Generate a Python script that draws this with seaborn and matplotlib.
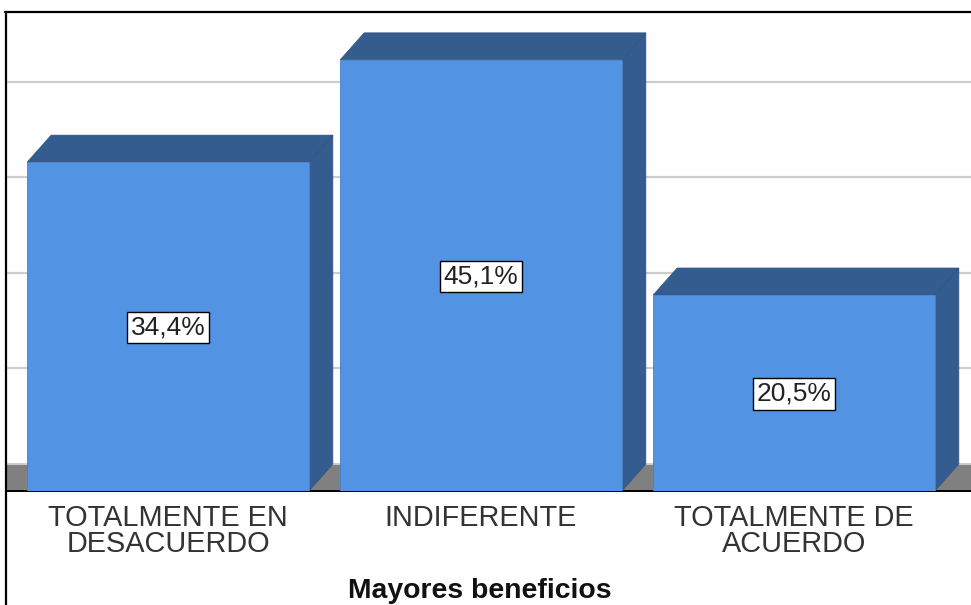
import matplotlib
matplotlib.use("Agg")
import matplotlib.pyplot as plt
import pandas as pd
import seaborn as sns
from matplotlib.lines import Line2D
from matplotlib.patches import Polygon

categories = ["TOTALMENTE EN\nDESACUERDO", "INDIFERENTE", "TOTALMENTE DE\nACUERDO"]
values = [34.4, 45.1, 20.5]
labels = ["34,4%", "45,1%", "20,5%"]
grid_levels = [10, 20, 30, 40]
axis_title = "Mayores beneficios"

FRONT = "#5294E3"
DARK = "#345C8E"
FLOOR = "#808080"
GRID = "#CDCDCD"

W, H = 971, 605
# pixel scale of the chart: 313 px per category, 9.56 px per percent
PX_X, PX_Y = 313.0, 9.56
DEPTH_X, DEPTH_Y = 24 / PX_X, 27 / PX_Y

sns.set_theme(style="white")
plt.rcParams["font.family"] = ["Liberation Sans", "DejaVu Sans"]

fig = plt.figure(figsize=(W / 100, H / 100), dpi=100, facecolor="white")
ax = fig.add_axes([6 / W, (H - 491) / H, (W - 6) / W, (491 - 12) / H])

df = pd.DataFrame({"categoria": categories, "pct": values})
sns.barplot(data=df, x="categoria", y="pct", color=FRONT, saturation=1, width=0.9,
            edgecolor="#4A80C4", linewidth=0.6, ax=ax, zorder=5)

ax.set_xlim((6 - 168) / PX_X, (W - 168) / PX_X)
ax.set_ylim(0, (491 - 12) / PX_Y)

# back wall grid and floor
x0, x1 = ax.get_xlim()
for lev in grid_levels:
    ax.hlines(lev + DEPTH_Y, x0, x1, color=GRID, lw=1.6, zorder=1)
ax.add_patch(Polygon([(x0, 0), (x1, 0), (x1, DEPTH_Y), (x0, DEPTH_Y)],
                     facecolor=FLOOR, edgecolor="none", zorder=2))
ax.hlines(DEPTH_Y, x0, x1, color=GRID, lw=1.4, zorder=2)

# 3d faces, built from the bars seaborn drew
for bar, txt in zip(ax.patches[:len(values)], labels):
    l, r = bar.get_x(), bar.get_x() + bar.get_width()
    h = bar.get_height()
    side = [(r, 0), (r + DEPTH_X, DEPTH_Y), (r + DEPTH_X, h + DEPTH_Y), (r, h)]
    top = [(l, h), (l + DEPTH_X, h + DEPTH_Y), (r + DEPTH_X, h + DEPTH_Y), (r, h)]
    ax.add_patch(Polygon(side, facecolor=DARK, edgecolor="#2F5380", lw=0.5, zorder=4))
    ax.add_patch(Polygon(top, facecolor=DARK, edgecolor="#2F5380", lw=0.5, zorder=4))
    ax.text((l + r) / 2, h / 2 - 0.1, txt, ha="center", va="center", fontsize=19,
            color="#222222", zorder=7,
            bbox=dict(boxstyle="square,pad=0.14", facecolor="white",
                      edgecolor="black", linewidth=1.0))

sns.despine(ax=ax, left=True, top=True, right=True, bottom=False)
ax.spines["bottom"].set_color("black")
ax.spines["bottom"].set_linewidth(1.4)
ax.spines["bottom"].set_zorder(3)
ax.set_yticks([])
ax.set_ylabel("")
ax.tick_params(axis="x", length=0, pad=9)
ax.set_xticks(range(len(categories)))
ax.set_xticklabels(categories, fontsize=20.8, color="#333333", linespacing=0.93)
ax.set_xlabel(axis_title, fontsize=20.4, fontweight="bold", color="#111111")
ax.xaxis.set_label_coords((480 - 6) / (W - 6), (491 - 598) / (491 - 12))
ax.xaxis.label.set_verticalalignment("baseline")

# frame of the screenshot: left and top only
fig.add_artist(Line2D([5.5 / W, 5.5 / W], [0, (H - 11.5) / H], color="black", lw=1.6))
fig.add_artist(Line2D([5 / W, 1], [(H - 11.5) / H, (H - 11.5) / H], color="black", lw=1.6))

fig.savefig("out.png", dpi=100)
